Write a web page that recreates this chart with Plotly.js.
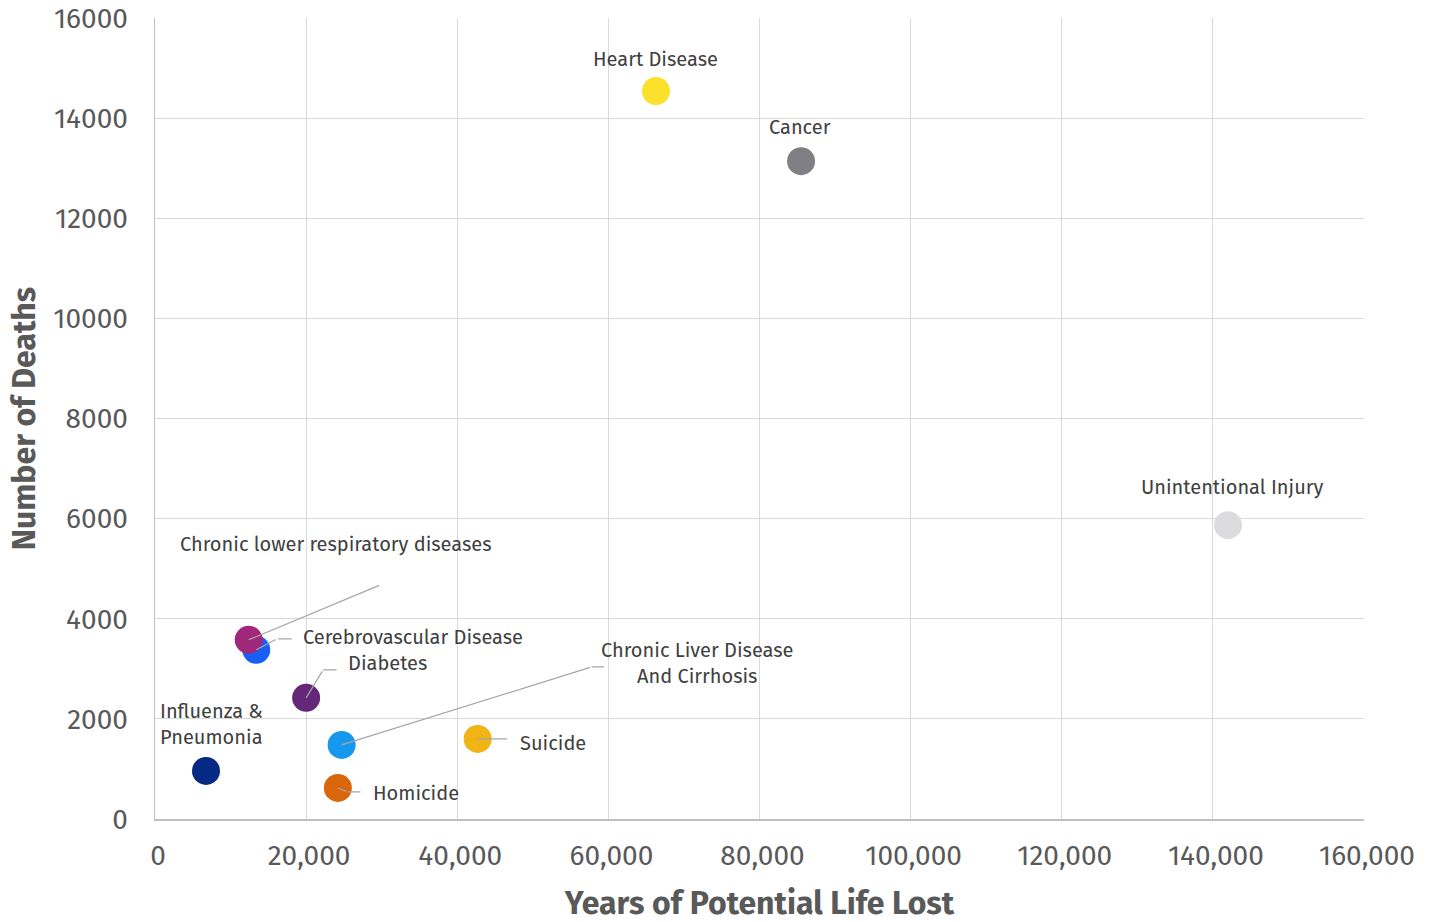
<!DOCTYPE html>
<html>
<head>
<meta charset="utf-8">
<script src="https://cdn.plot.ly/plotly-3.0.1.min.js"></script>
<style>
  html, body { margin: 0; padding: 0; background: #ffffff; }
  #chart { width: 1433px; height: 922px; }
</style>
</head>
<body>
<div id="chart"></div>
<script>
// Causes of death: years of potential life lost vs. number of deaths
const causes = [
  'Heart Disease', 'Cancer', 'Unintentional Injury',
  'Cerebrovascular Disease', 'Chronic lower respiratory diseases', 'Diabetes',
  'Chronic Liver Disease<br>And Cirrhosis', 'Suicide', 'Homicide',
  'Influenza &<br>Pneumonia'
];
const yearsLost = [66300, 85500, 142000, 13400, 12400, 20000, 24700, 42700, 24200, 6750];
const deaths    = [14540, 13140, 5870, 3380, 3580, 2420, 1480, 1600, 620, 960];

const pointColors = [
  '#fde02b', '#808084', '#dcdcde',
  '#1a5ff5', '#a0287a', '#652878',
  '#1598ee', '#f0b414', '#d9660a',
  '#062983'
];

// Label placement around each point (pixel offsets, y up)
const labelStyle = [
  { xs: 0,   ys: 32, anchor: 'center', align: 'center' },
  { xs: -1,  ys: 34, anchor: 'center', align: 'center' },
  { xs: 5,   ys: 38, anchor: 'center', align: 'center' },
  { xs: 45,  ys: 13, anchor: 'left',   align: 'left' },
  { xs: 87,  ys: 96, anchor: 'center', align: 'center' },
  { xs: 81,  ys: 35, anchor: 'center', align: 'center' },
  { xs: 356, ys: 82, anchor: 'center', align: 'center' },
  { xs: 40,  ys: -4, anchor: 'left',   align: 'left' },
  { xs: 33,  ys: -5, anchor: 'left',   align: 'left' },
  { xs: -48, ys: 47, anchor: 'left',   align: 'left' }
];

// Leader line segments per point: [xshift, yshift, ax, ay] (ay down-positive)
const leaders = [
  [], [], [],
  [[0, 0, 21, -11], [22, 11, 15, 0]],
  [[0, 0, 132, -55]],
  [[0, 0, 17, -28], [17, 28, 15, 0]],
  [[0, 0, 250, -78], [250, 78, 14, 0]],
  [[0, 0, 31, 0]],
  [[0, 0, 10, 4], [10, -4, 14, 0]],
  []
];

const FONT = '"Fira Sans", "Open Sans", "Noto Sans", sans-serif';

const annotations = [];
causes.forEach((name, i) => {
  leaders[i].forEach(seg => {
    annotations.push({
      x: yearsLost[i], y: deaths[i], xref: 'x', yref: 'y',
      xshift: seg[0], yshift: seg[1],
      ax: seg[2], ay: seg[3], axref: 'pixel', ayref: 'pixel',
      text: '', showarrow: true, arrowhead: 0, arrowwidth: 1.2,
      arrowcolor: '#a6a6a6', standoff: 0, startstandoff: 0
    });
  });
  const s = labelStyle[i];
  annotations.push({
    x: yearsLost[i], y: deaths[i], xref: 'x', yref: 'y',
    xshift: s.xs, yshift: s.ys,
    xanchor: s.anchor, yanchor: 'middle', align: s.align,
    text: name, showarrow: false,
    font: { family: FONT, size: 20, color: '#404040' }
  });
});

const trace = {
  type: 'scatter',
  mode: 'markers',
  x: yearsLost,
  y: deaths,
  text: causes,
  marker: { size: 28, color: pointColors, line: { width: 0 } },
  hoverinfo: 'text+x+y'
};

const layout = {
  width: 1433,
  height: 922,
  margin: { l: 155, r: 69, t: 18, b: 103, pad: 0 },
  paper_bgcolor: '#ffffff',
  plot_bgcolor: '#ffffff',
  showlegend: false,
  font: { family: FONT, color: '#595959' },
  xaxis: {
    range: [0, 160000],
    tickvals: [0, 20000, 40000, 60000, 80000, 100000, 120000, 140000, 160000],
    ticktext: ['0', '20,000', '40,000', '60,000', '80,000', '100,000', '120,000', '140,000', '160,000'],
    showgrid: true, gridcolor: '#d9d9d9', gridwidth: 1,
    zeroline: false,
    showline: true, linecolor: '#bfbfbf', linewidth: 1.5,
    ticks: '', ticklabelstandoff: 11, ticklabelshift: 3,
    tickfont: { family: FONT, size: 28, color: '#595959' },
    title: { text: 'Years of Potential Life Lost', standoff: 23,
             font: { family: FONT, size: 32, color: '#595959', weight: 'bold' } }
  },
  yaxis: {
    range: [0, 16000],
    tickvals: [0, 2000, 4000, 6000, 8000, 10000, 12000, 14000, 16000],
    ticktext: ['0', '2000', '4000', '6000', '8000', '10000', '12000', '14000', '16000'],
    showgrid: true, gridcolor: '#d9d9d9', gridwidth: 1,
    zeroline: false,
    showline: true, linecolor: '#bfbfbf', linewidth: 1.5,
    ticks: '', ticklabelstandoff: 20,
    tickfont: { family: FONT, size: 28, color: '#595959' },
    title: { text: 'Number of Deaths', standoff: 8,
             font: { family: FONT, size: 32, color: '#595959', weight: 'bold' } }
  },
  annotations: annotations
};

Plotly.newPlot('chart', [trace], layout, { displayModeBar: false, staticPlot: true });
</script>
</body>
</html>
